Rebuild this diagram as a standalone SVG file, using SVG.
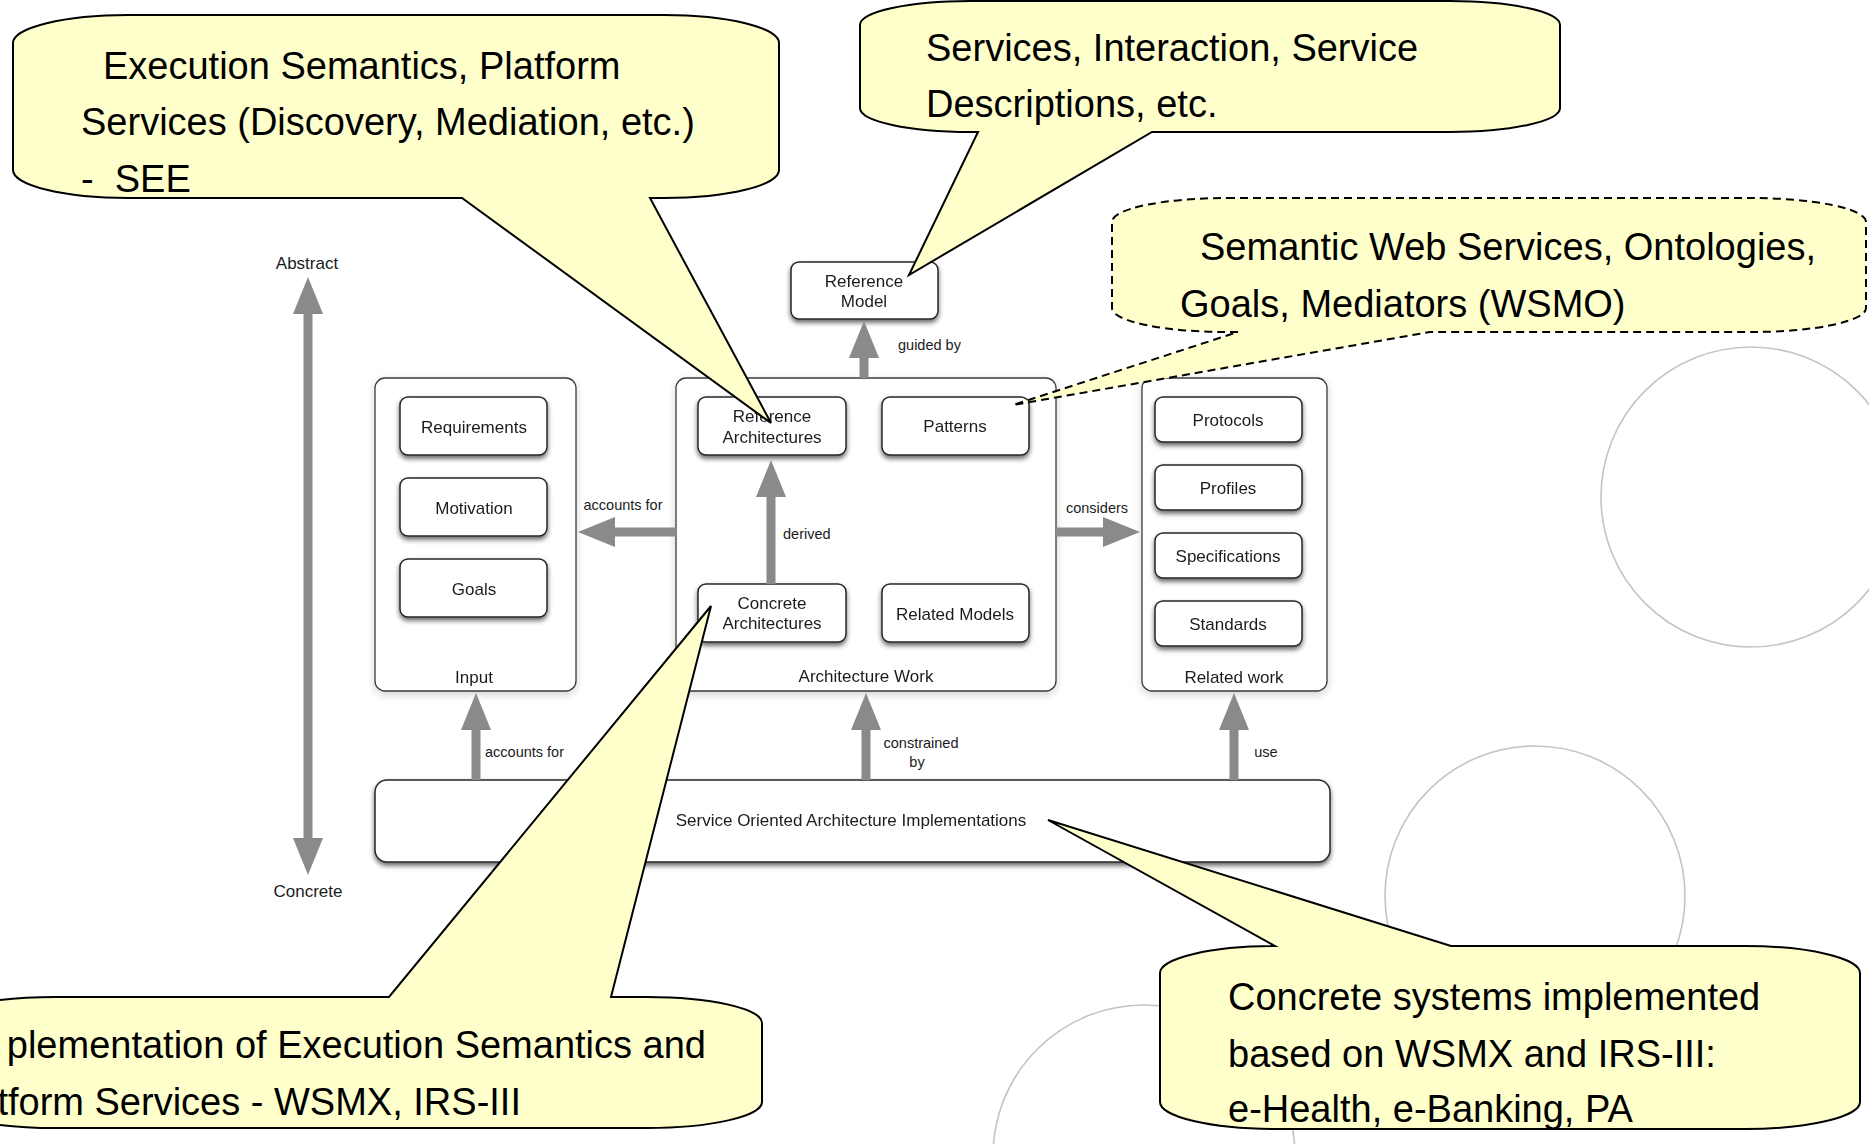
<svg xmlns="http://www.w3.org/2000/svg" width="1869" height="1144" viewBox="0 0 1869 1144">
  <style>
    .ring { fill: none; stroke: #c4c4c4; stroke-width: 1.6; }
    .cont { fill: #ffffff; stroke: #3a3a3a; stroke-width: 1.3; }
    .box { fill: #ffffff; stroke: #262626; stroke-width: 1.5; }
    .lbl { font-family: "Liberation Sans", Arial, Helvetica, sans-serif; font-size: 17px; fill: #1c1c1c; text-anchor: middle; }
    .sm { font-size: 14.5px; }
    .start { text-anchor: start; }
    .shaft { stroke: #8a8a8a; stroke-width: 9; fill: none; }
    .co { fill: #ffffcc; stroke: #000000; stroke-width: 2; stroke-linejoin: miter; }
    .dash { stroke-dasharray: 8 5; }
    .ct { font-family: "Liberation Sans", Arial, Helvetica, sans-serif; font-size: 38px; fill: #000000; }
  </style>
  <defs>
    <filter id="sh" x="-20%" y="-30%" width="140%" height="170%">
      <feGaussianBlur in="SourceAlpha" stdDeviation="2.5"/>
      <feOffset dy="3" result="b"/>
      <feComponentTransfer><feFuncA type="linear" slope="0.6"/></feComponentTransfer>
      <feMerge><feMergeNode/><feMergeNode in="SourceGraphic"/></feMerge>
    </filter>
    <filter id="shl" x="-10%" y="-10%" width="120%" height="120%">
      <feGaussianBlur in="SourceAlpha" stdDeviation="4"/>
      <feOffset dy="3" result="b"/>
      <feComponentTransfer><feFuncA type="linear" slope="0.18"/></feComponentTransfer>
      <feMerge><feMergeNode/><feMergeNode in="SourceGraphic"/></feMerge>
    </filter>
    <marker id="head" markerUnits="userSpaceOnUse" markerWidth="38" markerHeight="30" refX="1" refY="15" orient="auto-start-reverse" viewBox="0 0 38 30">
      <path d="M0,0 L37,15 L0,30 Z" fill="#8a8a8a"/>
    </marker>
  </defs>

  <!-- background rings -->
  <g id="rings">
    <circle class="ring" cx="1751" cy="497" r="150"/>
    <circle class="ring" cx="1535" cy="896" r="150"/>
    <circle class="ring" cx="1144" cy="1156" r="151"/>
  </g>

  <!-- containers -->
  <g id="input" filter="url(#shl)">
    <rect class="cont" x="375" y="378" width="201" height="313" rx="10"/>
    <text class="lbl" x="474" y="683">Input</text>
  </g>
  <g id="architecture-work" filter="url(#shl)">
    <rect class="cont" x="676" y="378" width="380" height="313" rx="10"/>
    <text class="lbl" x="866" y="682">Architecture Work</text>
  </g>
  <g id="related-work" filter="url(#shl)">
    <rect class="cont" x="1142" y="378" width="185" height="313" rx="10"/>
    <text class="lbl" x="1234" y="683">Related work</text>
  </g>

  <!-- nodes -->
  <g id="reference-model" filter="url(#sh)">
    <rect class="box" x="791" y="262" width="147" height="57" rx="8"/>
    <text class="lbl" x="864" y="287">Reference</text>
    <text class="lbl" x="864" y="307">Model</text>
  </g>
  <g id="requirements" filter="url(#sh)">
    <rect class="box" x="400" y="397" width="147" height="58" rx="8"/>
    <text class="lbl" x="474" y="433">Requirements</text>
  </g>
  <g id="motivation" filter="url(#sh)">
    <rect class="box" x="400" y="478" width="147" height="58" rx="8"/>
    <text class="lbl" x="474" y="514">Motivation</text>
  </g>
  <g id="goals" filter="url(#sh)">
    <rect class="box" x="400" y="559" width="147" height="58" rx="8"/>
    <text class="lbl" x="474" y="595">Goals</text>
  </g>
  <g id="reference-architectures" filter="url(#sh)">
    <rect class="box" x="698" y="397" width="148" height="58" rx="8"/>
    <text class="lbl" x="772" y="422">Reference</text>
    <text class="lbl" x="772" y="443">Architectures</text>
  </g>
  <g id="patterns" filter="url(#sh)">
    <rect class="box" x="882" y="397" width="147" height="58" rx="8"/>
    <text class="lbl" x="955" y="432">Patterns</text>
  </g>
  <g id="concrete-architectures" filter="url(#sh)">
    <rect class="box" x="698" y="584" width="148" height="58" rx="8"/>
    <text class="lbl" x="772" y="609">Concrete</text>
    <text class="lbl" x="772" y="629">Architectures</text>
  </g>
  <g id="related-models" filter="url(#sh)">
    <rect class="box" x="882" y="584" width="147" height="58" rx="8"/>
    <text class="lbl" x="955" y="620">Related Models</text>
  </g>
  <g id="protocols" filter="url(#sh)">
    <rect class="box" x="1155" y="397" width="147" height="45" rx="8"/>
    <text class="lbl" x="1228" y="426">Protocols</text>
  </g>
  <g id="profiles" filter="url(#sh)">
    <rect class="box" x="1155" y="465" width="147" height="45" rx="8"/>
    <text class="lbl" x="1228" y="494">Profiles</text>
  </g>
  <g id="specifications" filter="url(#sh)">
    <rect class="box" x="1155" y="533" width="147" height="45" rx="8"/>
    <text class="lbl" x="1228" y="562">Specifications</text>
  </g>
  <g id="standards" filter="url(#sh)">
    <rect class="box" x="1155" y="601" width="147" height="45" rx="8"/>
    <text class="lbl" x="1228" y="630">Standards</text>
  </g>
  <g id="soa-implementations" filter="url(#sh)">
    <rect class="box" x="375" y="780" width="955" height="82" rx="12"/>
    <text class="lbl" x="851" y="826">Service Oriented Architecture Implementations</text>
  </g>

  <!-- connectors -->
  <g id="connectors">
    <line class="shaft" x1="864" y1="378" x2="864" y2="357" marker-end="url(#head)"/>
    <line class="shaft" x1="771" y1="584" x2="771" y2="496" marker-end="url(#head)"/>
    <line class="shaft" x1="676" y1="532" x2="614" y2="532" marker-end="url(#head)"/>
    <line class="shaft" x1="1056" y1="532" x2="1104" y2="532" marker-end="url(#head)"/>
    <line class="shaft" x1="476" y1="780" x2="476" y2="729" marker-end="url(#head)"/>
    <line class="shaft" x1="866" y1="780" x2="866" y2="729" marker-end="url(#head)"/>
    <line class="shaft" x1="1234" y1="780" x2="1234" y2="729" marker-end="url(#head)"/>
    <line class="shaft" x1="308" y1="313" x2="308" y2="839" marker-start="url(#head)" marker-end="url(#head)"/>
    <text class="lbl" x="307" y="269">Abstract</text>
    <text class="lbl" x="308" y="897">Concrete</text>
    <text class="lbl sm start" x="898" y="350">guided by</text>
    <text class="lbl sm start" x="783" y="539">derived</text>
    <text class="lbl sm" x="623" y="510">accounts for</text>
    <text class="lbl sm" x="1097" y="513">considers</text>
    <text class="lbl sm start" x="485" y="757">accounts for</text>
    <text class="lbl sm" x="921" y="748">constrained</text>
    <text class="lbl sm" x="917" y="767">by</text>
    <text class="lbl sm" x="1266" y="757">use</text>
  </g>

  <!-- callouts -->
  <g id="callout-see">
    <path class="co" d="M128,15 H664 A115 28 0 0 1 779,43 V170 A115 28 0 0 1 664,198 H650 L771,423 L462,198 H128 A115 28 0 0 1 13,170 V43 A115 28 0 0 1 128,15 Z"/>
    <text class="ct" x="103" y="79">Execution Semantics, Platform</text>
    <text class="ct" x="81" y="135">Services (Discovery, Mediation, etc.)</text>
    <text class="ct" x="81" y="192" xml:space="preserve">-  SEE</text>
  </g>
  <g id="callout-reference-model">
    <path class="co" d="M970,1 H1450 A110 24 0 0 1 1560,25 V108 A110 24 0 0 1 1450,132 H1152 L909,275 L978,132 H970 A110 24 0 0 1 860,108 V25 A110 24 0 0 1 970,1 Z"/>
    <text class="ct" x="926" y="61">Services, Interaction, Service</text>
    <text class="ct" x="926" y="117">Descriptions, etc.</text>
  </g>
  <g id="callout-wsmo">
    <path class="co dash" d="M1227,198 H1751 A115 24 0 0 1 1866,222 V308 A115 24 0 0 1 1751,332 H1430 L1013,405 L1238,332 H1227 A115 24 0 0 1 1112,308 V222 A115 24 0 0 1 1227,198 Z"/>
    <text class="ct" x="1200" y="260">Semantic Web Services, Ontologies,</text>
    <text class="ct" x="1180" y="317">Goals, Mediators (WSMO)</text>
  </g>
  <g id="callout-wsmx">
    <path class="co" d="M55,997 H389 L711,606 L611,997 H647 A115 26 0 0 1 762,1023 V1102 A115 26 0 0 1 647,1128 H55 A115 26 0 0 1 -60,1102 V1023 A115 26 0 0 1 55,997 Z"/>
    <text class="ct" x="706" y="1058" text-anchor="end">plementation of Execution Semantics and</text>
    <text class="ct" x="521" y="1115" text-anchor="end">tform Services - WSMX, IRS-III</text>
  </g>
  <g id="callout-systems">
    <path class="co" d="M1275,946 L1048,820 L1451,946 H1745 A115 27 0 0 1 1860,973 V1102 A115 27 0 0 1 1745,1129 H1275 A115 27 0 0 1 1160,1102 V973 A115 27 0 0 1 1275,946 Z"/>
    <text class="ct" x="1228" y="1010">Concrete systems implemented</text>
    <text class="ct" x="1228" y="1067">based on WSMX and IRS-III:</text>
    <text class="ct" x="1228" y="1122">e-Health, e-Banking, PA</text>
  </g>
</svg>
